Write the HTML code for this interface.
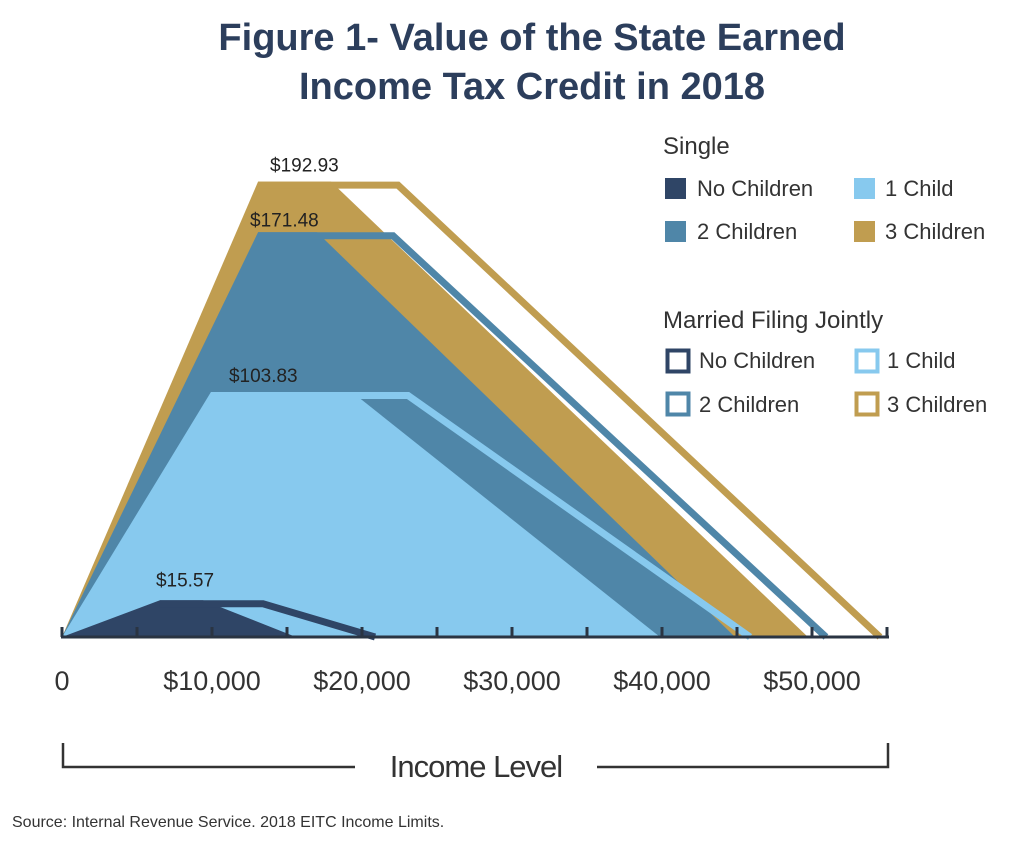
<!DOCTYPE html>
<html><head><meta charset="utf-8"><style>
body{margin:0;background:#fff;}
svg{display:block;font-family:"Liberation Sans",sans-serif;}
</style></head><body>
<svg id="chart" width="1024" height="851" viewBox="0 0 1024 851">
<text x="532" y="50" text-anchor="middle" font-size="38" font-weight="bold" fill="#2c3e5c">Figure 1- Value of the State Earned</text>
<text x="532" y="99" text-anchor="middle" font-size="38" font-weight="bold" fill="#2c3e5c">Income Tax Credit in 2018</text>
<g id="marks"></g>
<g id="axis"></g>
<g stroke="#333" stroke-width="2.5" fill="none">
<path d="M63 743 V767 H355 M597 767 H888 V743"/>
</g>
<text x="476" y="777" text-anchor="middle" font-size="31" fill="#333" letter-spacing="-1">Income Level</text>
<text x="12" y="827" font-size="16" fill="#333">Source: Internal Revenue Service. 2018 EITC Income Limits.</text>
<g font-size="22" fill="#333">
<text x="663" y="154" font-size="24">Single</text>
<rect x="665" y="178" width="21" height="21" fill="#2f4566"/>
<text x="697" y="196">No Children</text>
<rect x="854" y="178" width="21" height="21" fill="#87c9ee"/>
<text x="885" y="196">1 Child</text>
<rect x="665" y="221" width="21" height="21" fill="#4f86a8"/>
<text x="697" y="239">2 Children</text>
<rect x="854" y="221" width="21" height="21" fill="#c09d50"/>
<text x="885" y="239">3 Children</text>
<text x="663" y="328" font-size="24">Married Filing Jointly</text>
<rect x="667.5" y="350.5" width="21" height="21" fill="none" stroke="#2f4566" stroke-width="4"/>
<text x="699" y="368">No Children</text>
<rect x="856.5" y="350.5" width="21" height="21" fill="none" stroke="#87c9ee" stroke-width="4"/>
<text x="887" y="368">1 Child</text>
<rect x="667.5" y="393.5" width="21" height="21" fill="none" stroke="#4f86a8" stroke-width="4"/>
<text x="699" y="412">2 Children</text>
<rect x="856.5" y="393.5" width="21" height="21" fill="none" stroke="#c09d50" stroke-width="4"/>
<text x="887" y="412">3 Children</text>
</g>
</svg>
<script>
// series order: 3 children, 2 children, 1 child, no children
const seriesNames = ["3 Children","2 Children","1 Child","No Children"];
const maxCredit = [192.93,171.48,103.83,15.57];
const plateauStart = [13070,13070,9930,6530];
const singlePlateauEnd = [17930,17000,19330,9400];
const singleEnd = [49730,44870,39870,15600];
const marriedPlateauEnd = [22400,22070,23070,13400];
const marriedEnd = [54530,50930,45870,20870];
const xTicks = [0,5000,10000,15000,20000,25000,30000,35000,40000,45000,50000,55000];
const xTickLabels = ["0","$10,000","$20,000","$30,000","$40,000","$50,000"];
const xLabelValues = [0,10000,20000,30000,40000,50000];
const colors = ["#c09d50","#4f86a8","#87c9ee","#2f4566"];
const NS="http://www.w3.org/2000/svg";
const X0=62, Y0=637;
const sx=v=>X0+v*0.015;
const sy=v=>Y0-v*2.36;
const marks=document.getElementById('marks');
const axis=document.getElementById('axis');
function mk(tag,attrs,parent){const e=document.createElementNS(NS,tag);for(const k in attrs)e.setAttribute(k,attrs[k]);parent.appendChild(e);return e;}
for(let i=0;i<seriesNames.length;i++){
  const top=sy(maxCredit[i]);
  const poly=mk('polygon',{points:`${sx(0)},${Y0} ${sx(plateauStart[i])},${top} ${sx(singlePlateauEnd[i])},${top} ${sx(singleEnd[i])},${Y0}`,fill:colors[i]},marks);
  
  
  const t=top+3.5;
  const line=mk('polyline',{points:`${sx(plateauStart[i])},${t} ${sx(marriedPlateauEnd[i])},${t} ${sx(marriedEnd[i])},${Y0}`,fill:'none',stroke:colors[i],'stroke-width':7,'stroke-linejoin':'miter'},marks);
  
  
  const lbl=mk('text',{x:sx(plateauStart[i])+(i==0?12:i==1?-8:i==2?18:-4),y:top-(i==0?10:i==1?6:i==2?10:14),'font-size':19,fill:'#222'},marks);
  lbl.textContent='$'+maxCredit[i].toFixed(2);
  
  
}
const base=mk('line',{x1:X0-1,y1:Y0,x2:sx(55000)+2,y2:Y0,stroke:'#2a3442','stroke-width':3},axis);


xTicks.forEach(v=>{
  const tk=mk('line',{x1:sx(v),y1:Y0-10,x2:sx(v),y2:Y0,stroke:'#2a3442','stroke-width':3},axis);
  
  
});
xTickLabels.forEach((s,i)=>{
  const tx=mk('text',{x:sx(xLabelValues[i]),y:690,'text-anchor':'middle','font-size':27,fill:'#333'},axis);
  tx.textContent=s;
  
  
});
</script>
</body></html>
